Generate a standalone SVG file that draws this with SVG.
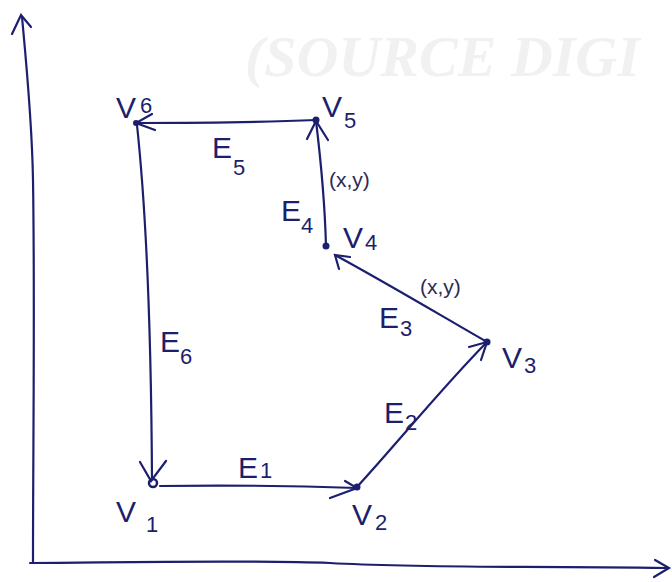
<svg xmlns="http://www.w3.org/2000/svg" width="672" height="582" viewBox="0 0 672 582">
<style>
.ln{fill:none;stroke:#1c1f6e;stroke-width:2.2;stroke-linecap:round;stroke-linejoin:round}
.ah{fill:none;stroke:#1c1f6e;stroke-width:2.2;stroke-linecap:round}
.lb{font-family:"Liberation Sans",Arial,sans-serif;fill:#1c1f6e}
.big{font-size:30px}
.sub{font-size:22px}
.xy{font-family:"Liberation Sans",Arial,sans-serif;fill:#2a2a55;font-size:21px}
.wm{font-family:"Liberation Serif","Times New Roman",serif;font-weight:bold;font-style:italic;font-size:58px;fill:#f1f1f1}
.dot{fill:#1c1f6e}
</style>
<rect width="672" height="582" fill="#ffffff"/>
<text class="wm" x="245" y="76">(SOURCE  DIGI</text>
<g id="axes">
<path class="ln" d="M33,562 C33,450 35,300 33,180 C32,120 26,60 22,17"/>
<path class="ah" d="M12,34 L21,15 L31,27"/>
<path class="ln" d="M30,563 C150,562 250,560 330,563 C420,568 500,566 668,568"/>
<path class="ah" d="M655,560 L669,568 L654,577"/>
</g>
<g id="edges">
<path class="ln" d="M316,120 C270,122 200,123 136,123"/>
<path class="ah" d="M152,114 L136,123 L155,130"/>
<path class="ln" d="M326,246 C325,210 322,170 316,121"/>
<path class="ah" d="M307,139 L316,121 L328,140"/>
<path class="ln" d="M487,342 C440,315 390,285 335,255"/>
<path class="ah" d="M339,269 L335,255 L350,257"/>
<path class="ln" d="M357,487 C400,440 440,390 487,342"/>
<path class="ah" d="M469,347 L487,342 L481,360"/>
<path class="ln" d="M160,486 C230,485 300,486 357,488"/>
<path class="ah" d="M345,481 L357,488 L330,498"/>
<path class="ln" d="M137,125 C145,200 151,300 152,480"/>
<path class="ah" d="M140,462 L151,481 L166,461"/>
</g>
<g id="V1"><circle cx="153" cy="483" r="4" fill="none" stroke="#1c1f6e" stroke-width="2.5"/><text class="lb big" x="116" y="522">V</text><text class="lb sub" x="146" y="532">1</text></g>
<g id="V2"><circle class="dot" cx="357" cy="487" r="3.5"/><text class="lb big" x="352" y="525">V</text><text class="lb sub" x="375" y="530">2</text></g>
<g id="V3"><circle class="dot" cx="487" cy="342" r="3.5"/><text class="lb big" x="502" y="368">V</text><text class="lb sub" x="524" y="373">3</text></g>
<g id="V4"><circle class="dot" cx="326" cy="246" r="3.5"/><text class="lb big" x="343" y="248">V</text><text class="lb sub" x="365" y="250">4</text></g>
<g id="V5"><circle class="dot" cx="316" cy="120" r="3.5"/><text class="lb big" x="322" y="117">V</text><text class="lb sub" x="344" y="128">5</text></g>
<g id="V6"><circle class="dot" cx="136" cy="123" r="3"/><text class="lb big" x="116" y="118">V</text><text class="lb sub" x="140" y="113">6</text></g>
<g id="labels">
<text class="lb big" x="212" y="158">E</text><text class="lb sub" x="233" y="175">5</text>
<text class="xy" x="329" y="187">(x,y)</text>
<text class="lb big" x="281" y="221">E</text><text class="lb sub" x="301" y="233">4</text>
<text class="xy" x="420" y="294">(x,y)</text>
<text class="lb big" x="379" y="328">E</text><text class="lb sub" x="400" y="336">3</text>
<text class="lb big" x="384" y="423">E</text><text class="lb sub" x="405" y="430">2</text>
<text class="lb big" x="160" y="352">E</text><text class="lb sub" x="180" y="364">6</text>
<text class="lb big" x="238" y="478">E</text><text class="lb sub" x="260" y="478">1</text>
</g>
</svg>
